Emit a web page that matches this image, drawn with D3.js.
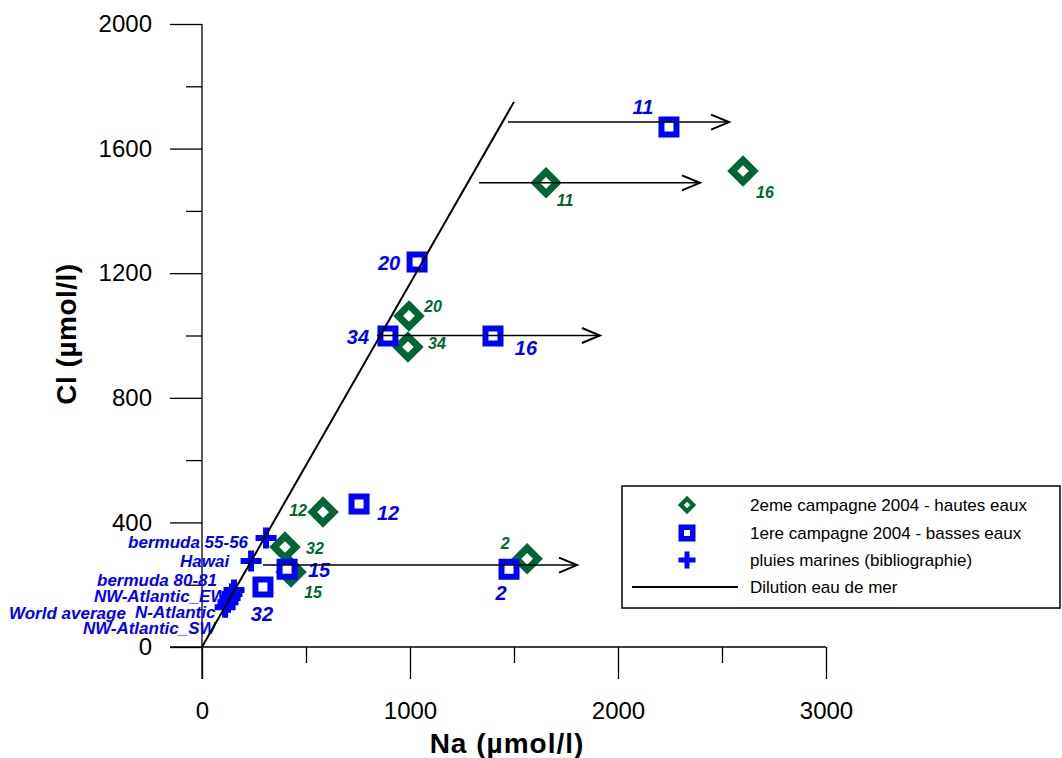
<!DOCTYPE html>
<html><head><meta charset="utf-8">
<script src="https://cdn.jsdelivr.net/npm/d3@7"></script>
<style>
body{margin:0;background:#fff}
svg{display:block}
text{font-family:"Liberation Sans",Arial,sans-serif}
</style>
</head><body>
<svg id="c" width="1062" height="758"></svg>
<script>
// ---------------- data ----------------
const xTicks = [0, 1000, 2000, 3000];
const xMinorTicks = [500, 1500, 2500];
const yTicks = [0, 400, 800, 1200, 1600, 2000];
const yMinorTicks = [200, 600, 1000, 1400, 1800];

const greenIds = ["11", "16", "20", "34", "12", "32", "15", "2"];
const greenNa  = [1654, 2601, 995, 990, 582, 399, 428, 1563];
const greenCl  = [1490, 1528, 1063, 963, 433, 321, 241, 283];

const blueIds = ["11", "20", "34", "16", "12", "15", "32", "2"];
const blueNa  = [2245, 1034, 894, 1399, 755, 409, 293, 1476];
const blueCl  = [1669, 1236, 998, 998, 459, 250, 193, 250];

const rainNames = ["bermuda 55-56", "Hawai", "bermuda 80-81", "NW-Atlantic_EW", "N-Atlantic", "World average", "NW-Atlantic_SW"];
const rainNa = [308, 236, 154, 144, 135, 125, 111];
const rainCl = [350, 276, 183, 170, 157, 144, 128];

const dilutionNa = [0, 1500];
const dilutionCl = [0, 1750];

const arrowCl      = [1685, 1490, 1000, 263];
const arrowNaStart = [1471, 1332, 841, 293];
const arrowNaEnd   = [2534, 2394, 1913, 1803];

const legendLabels = ["2eme campagne 2004 - hautes eaux", "1ere campagne 2004 - basses eaux", "pluies marines (bibliographie)", "Dilution eau de mer"];
const xTitle = "Na (µmol/l)";
const yTitle = "Cl (µmol/l)";

// ---------------- layout (label offsets in px) ----------------
const greenLabelOffset = [[19,17],[22,21],[24,-10],[29,-4],[-25,-2],[30,1],[22,20],[-22,-16]];
const blueLabelOffset  = [[-26,-20],[-28,1],[-30,1],[33,12],[29,9],[32,1],[-1,27],[-8,24]];
const rainLabelOffset  = [[-138,10],[-71,6],[-137,-4],[-138,8],[-95,20],[-219,17],[-142,27]];

const GREEN = "#006633", BLUE = "#0000ff";

const svg = d3.select("#c");
svg.append("rect").attr("width",1062).attr("height",758).attr("fill","#fff");

const x = d3.scaleLinear().domain([0, 3000]).range([202, 826]);
const y = d3.scaleLinear().domain([0, 2000]).range([647, 24]);

// ---------------- axes ----------------
const MAJ = 32, MIN = 16;
const gx = svg.append("g").attr("transform", `translate(0,${y(0)})`);
gx.call(d3.axisBottom(x).tickValues(xTicks).tickSize(MAJ).tickPadding(23).tickSizeOuter(0).tickFormat(d3.format("d")));
gx.append("g").call(d3.axisBottom(x).tickValues(xMinorTicks).tickSize(MIN).tickSizeOuter(0).tickFormat(""));
const gy = svg.append("g").attr("transform", `translate(${x(0)},0)`);
gy.call(d3.axisLeft(y).tickValues(yTicks).tickSize(MAJ).tickPadding(18).tickSizeOuter(0).tickFormat(d3.format("d")));
gy.append("g").call(d3.axisLeft(y).tickValues(yMinorTicks).tickSize(MIN).tickSizeOuter(0).tickFormat(""));
svg.selectAll(".domain").remove();
svg.selectAll(".tick line").attr("stroke","#000").attr("stroke-width",1.3);
svg.selectAll(".tick text").attr("fill","#000").style("font-size","24px").style("font-family",'"Liberation Sans",Arial,sans-serif');
// axis lines
svg.append("line").attr("x1", x(0)-MAJ).attr("x2", x(3000)).attr("y1", y(0)).attr("y2", y(0)).attr("stroke","#000").attr("stroke-width",1.3);
svg.append("line").attr("x1", x(0)).attr("x2", x(0)).attr("y1", y(2000)).attr("y2", y(0)+MAJ).attr("stroke","#000").attr("stroke-width",1.3);

// titles
svg.append("text").attr("x", 507).attr("y", 753).attr("text-anchor","middle")
  .style("font-size","28px").style("font-weight","bold").style("letter-spacing","1px").text(xTitle);
svg.append("text").attr("transform","translate(76,334) rotate(-90)").attr("text-anchor","middle")
  .style("font-size","28px").style("font-weight","bold").style("letter-spacing","0.5px").text(yTitle);

// ---------------- marker shapes ----------------
function diamondPath(h){ return `M0,${-h}L${h},0L0,${h}L${-h},0Z`; }
function squarePath(s){ return `M${-s/2},${-s/2}h${s}v${s}h${-s}Z`; }
function crossPath(l){ return `M${-l/2},0H${l/2}M0,${-l/2}V${l/2}`; }

const green = greenIds.map((id,i)=>({id, na:greenNa[i], cl:greenCl[i], off:greenLabelOffset[i]}));
const blue  = blueIds.map((id,i)=>({id, na:blueNa[i], cl:blueCl[i], off:blueLabelOffset[i]}));
const rain  = rainNames.map((n,i)=>({id:n, na:rainNa[i], cl:rainCl[i], off:rainLabelOffset[i]}));

// green diamonds
svg.append("g").selectAll("path").data(green).join("path")
  .attr("d", diamondPath(10.8)).attr("transform", d=>`translate(${x(d.na)},${y(d.cl)})`)
  .attr("fill","#fff").attr("stroke",GREEN).attr("stroke-width",7).attr("stroke-linejoin","miter");
// blue squares
svg.append("g").selectAll("path").data(blue).join("path")
  .attr("d", squarePath(15)).attr("transform", d=>`translate(${x(d.na)},${y(d.cl)})`)
  .attr("fill","#fff").attr("stroke",BLUE).attr("stroke-width",6);
// rain crosses
svg.append("g").selectAll("path").data(rain).join("path")
  .attr("d", crossPath(21)).attr("transform", d=>`translate(${x(d.na)},${y(d.cl)})`)
  .attr("fill","none").attr("stroke",BLUE).attr("stroke-width",6);

// labels
svg.append("g").selectAll("text").data(green).join("text")
  .attr("x", d=>x(d.na)+d.off[0]).attr("y", d=>y(d.cl)+d.off[1]).attr("dy","0.36em")
  .attr("text-anchor","middle").attr("fill",GREEN)
  .style("font-size","16px").style("font-weight","bold").style("font-style","italic").text(d=>d.id);
svg.append("g").selectAll("text").data(blue).join("text")
  .attr("x", d=>x(d.na)+d.off[0]).attr("y", d=>y(d.cl)+d.off[1]).attr("dy","0.36em")
  .attr("text-anchor","middle").attr("fill",BLUE)
  .style("font-size","20px").style("font-weight","bold").style("font-style","italic").text(d=>d.id);
svg.append("g").selectAll("text").data(rain).join("text")
  .attr("x", d=>x(d.na)+d.off[0]).attr("y", d=>y(d.cl)+d.off[1])
  .attr("text-anchor","start").attr("fill",BLUE)
  .style("font-size","17px").style("font-weight","bold").style("font-style","italic").text(d=>d.id);

// dilution line
svg.append("line").attr("x1", x(dilutionNa[0])).attr("y1", y(dilutionCl[0]))
  .attr("x2", x(dilutionNa[1])).attr("y2", y(dilutionCl[1]))
  .attr("stroke","#000").attr("stroke-width",2);

// arrows
const arrows = arrowCl.map((c,i)=>({cl:c, a:arrowNaStart[i], b:arrowNaEnd[i]}));
const ga = svg.append("g");
ga.selectAll("line").data(arrows).join("line")
  .attr("x1", d=>x(d.a)).attr("x2", d=>x(d.b)).attr("y1", d=>y(d.cl)).attr("y2", d=>y(d.cl))
  .attr("stroke","#000").attr("stroke-width",1.5);
ga.selectAll("path").data(arrows).join("path")
  .attr("d", d=>{const X=x(d.b), Y=y(d.cl); return `M${X-18},${Y-7.5}L${X},${Y}L${X-18},${Y+7.5}`;})
  .attr("fill","none").attr("stroke","#000").attr("stroke-width",2);

// ---------------- legend ----------------
const lg = svg.append("g");
lg.append("rect").attr("x",622).attr("y",486).attr("width",438).attr("height",122)
  .attr("fill","#fff").attr("stroke","#000").attr("stroke-width",1.5);
const rowY = [505, 533, 560, 587];
const symX = 687;
lg.append("path").attr("d", diamondPath(6.2)).attr("transform",`translate(${symX},${rowY[0]})`)
  .attr("fill","#fff").attr("stroke",GREEN).attr("stroke-width",4.2);
lg.append("path").attr("d", squarePath(11.5)).attr("transform",`translate(${symX},${rowY[1]})`)
  .attr("fill","#fff").attr("stroke",BLUE).attr("stroke-width",5.5);
lg.append("path").attr("d", crossPath(17)).attr("transform",`translate(${symX},${rowY[2]})`)
  .attr("fill","none").attr("stroke",BLUE).attr("stroke-width",5);
lg.append("line").attr("x1",632).attr("x2",738).attr("y1",rowY[3]).attr("y2",rowY[3])
  .attr("stroke","#000").attr("stroke-width",2);
lg.selectAll("text.l").data(legendLabels).join("text").attr("class","l")
  .attr("x",750).attr("y",(d,i)=>rowY[i]).attr("dy","0.36em").attr("fill","#000")
  .style("font-size","17px").text(d=>d);
</script>
</body></html>
